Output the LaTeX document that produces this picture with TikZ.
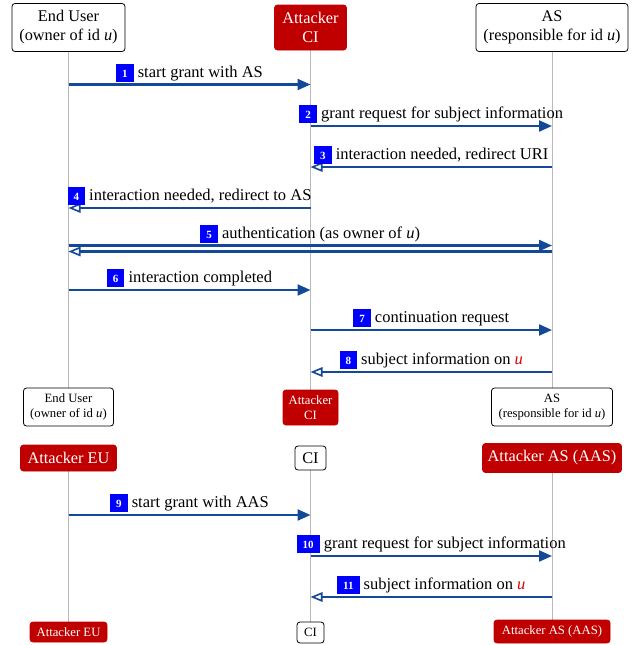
\documentclass[tikz,border=0pt]{standalone}
\usepackage{fontspec}
\setmainfont{Liberation Serif}
\usetikzlibrary{arrows.meta,backgrounds}
\definecolor{arrblue}{RGB}{20,72,152}
\definecolor{badgeblue}{RGB}{0,0,255}
\definecolor{attred}{RGB}{192,0,0}
\definecolor{ured}{RGB}{220,0,0}
\definecolor{lifegray}{RGB}{185,185,185}
\newcommand{\nb}[1]{{\setlength{\fboxsep}{0pt}\colorbox{badgeblue}{\rule[-4.5pt]{0pt}{18pt}\hspace{6pt}\textcolor{white}{\fontsize{11}{11}\selectfont\bfseries #1}\hspace{6pt}}}}
\newcommand{\uu}{\textit{u}}
\newcommand{\ru}{\textcolor{ured}{\textit{u}}}
\tikzset{
  party/.style={draw=black, line width=0.8pt, rounded corners=3pt, fill=white, align=center, inner sep=0pt, font=\fontsize{16.3}{19}\selectfont},
  attacker/.style={party, draw=attred, fill=attred, text=white},
  small/.style={font=\fontsize{12.7}{15}\selectfont},
  life/.style={draw=lifegray, line width=0.8pt},
  req/.style={draw=arrblue, line width=2.2pt, -{Triangle[length=13pt,width=11pt]}},
  resp/.style={draw=arrblue, line width=2.2pt, -{Triangle[open,length=12pt,width=9.5pt,line width=1.6pt]}},
  lbl/.style={inner sep=0pt, font=\fontsize{16.5}{19}\selectfont, above=1.8pt}
}
\begin{document}
\begin{tikzpicture}[x=1pt,y=-1pt]
\useasboundingbox (0,0) rectangle (632,645);
% headers section 1
\node[party, minimum width=113, minimum height=48] (eu1) at (68.5,27.5) {End User\\(owner of id \uu)};
\node[attacker, minimum width=72, minimum height=45] (ci1) at (310.5,27.5) {Attacker\\CI};
\node[party, minimum width=152, minimum height=48] (as1) at (552,27.5) {AS\\(responsible for id \uu)};
% footers section 1
\node[party, small, minimum width=90, minimum height=38] (eu1f) at (68.5,407) {End User\\(owner of id \uu)};
\node[attacker, small, minimum width=55, minimum height=35] (ci1f) at (310.5,407.5) {Attacker\\CI};
\node[party, small, minimum width=121, minimum height=38] (as1f) at (552,407) {AS\\(responsible for id \uu)};
% headers section 2
\node[attacker, minimum width=96, minimum height=26] (eu2) at (68.5,458) {Attacker EU};
\node[party, minimum width=31, minimum height=24] (ci2) at (310.5,458) {CI};
\node[attacker, minimum width=139, minimum height=29] (as2) at (552,458) {Attacker AS (AAS)};
% footers section 2
\node[attacker, small, minimum width=77, minimum height=20] (eu2f) at (68.5,632) {Attacker EU};
\node[party, small, minimum width=27, minimum height=21] (ci2f) at (310.5,632.5) {CI};
\node[attacker, small, minimum width=116, minimum height=23] (as2f) at (552,631.5) {Attacker AS (AAS)};
% lifelines
\begin{scope}[on background layer]
\draw[life] (eu1) -- (eu1f);
\draw[life] (ci1) -- (ci1f);
\draw[life] (as1) -- (as1f);
\draw[life] (eu2) -- (eu2f);
\draw[life] (ci2) -- (ci2f);
\draw[life] (as2) -- (as2f);
\end{scope}
% message heights
\coordinate (m1) at (0,84.5);
\coordinate (m2) at (0,126);
\coordinate (m3) at (0,167);
\coordinate (m4) at (0,208);
\coordinate (m5a) at (0,245.5);
\coordinate (m5b) at (0,251.5);
\coordinate (m6) at (0,290);
\coordinate (m7) at (0,330);
\coordinate (m8) at (0,372);
\coordinate (m9) at (0,515);
\coordinate (m10) at (0,556);
\coordinate (m11) at (0,597);
% messages
\draw[req] (eu1 |- m1) -- (ci1 |- m1) node[lbl, midway] (t1) {\nb{1} start grant with AS};
\draw[req] (ci1 |- m2) -- (as1 |- m2) node[lbl, midway] (t2) {\nb{2} grant request for subject information};
\draw[resp] (as1 |- m3) -- (ci1 |- m3) node[lbl, midway] (t3) {\nb{3} interaction needed, redirect URI};
\draw[resp] (ci1 |- m4) -- (eu1 |- m4) node[lbl, midway] (t4) {\nb{4} interaction needed, redirect to AS};
\draw[req] (eu1 |- m5a) -- (as1 |- m5a) node[lbl, midway] (t5) {\nb{5} authentication (as owner of \uu)};
\draw[resp] (as1 |- m5b) -- (eu1 |- m5b);
\draw[req] (eu1 |- m6) -- (ci1 |- m6) node[lbl, midway] (t6) {\nb{6} interaction completed};
\draw[req] (ci1 |- m7) -- (as1 |- m7) node[lbl, midway] (t7) {\nb{7} continuation request};
\draw[resp] (as1 |- m8) -- (ci1 |- m8) node[lbl, midway] (t8) {\nb{8} subject information on \ru};
\draw[req] (eu2 |- m9) -- (ci2 |- m9) node[lbl, midway] (t9) {\nb{9} start grant with AAS};
\draw[req] (ci2 |- m10) -- (as2 |- m10) node[lbl, midway] (t10) {\nb{10} grant request for subject information};
\draw[resp] (as2 |- m11) -- (ci2 |- m11) node[lbl, midway] (t11) {\nb{11} subject information on \ru};
\end{tikzpicture}
\end{document}
